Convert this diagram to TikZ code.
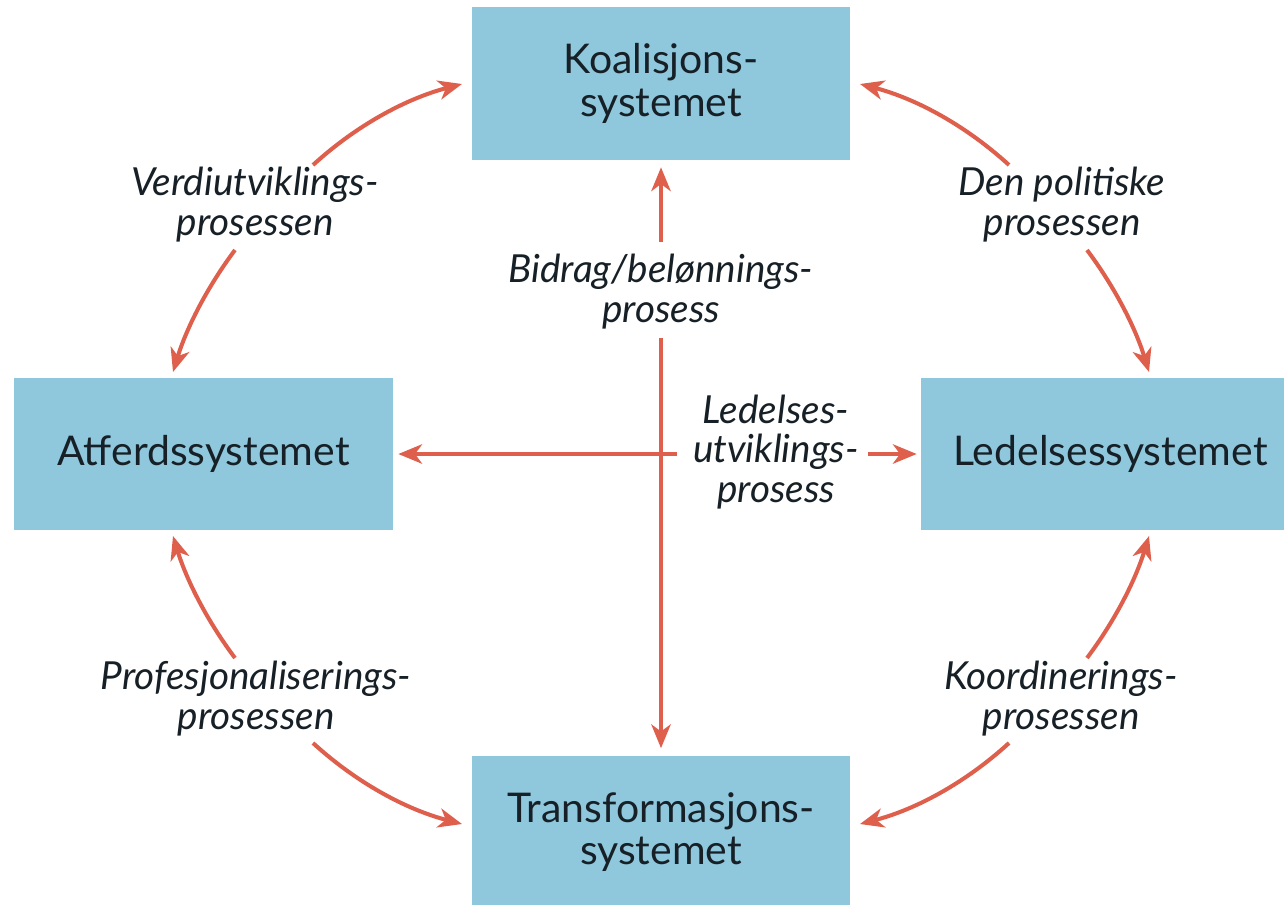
\documentclass[tikz,border=0pt]{standalone}
\usepackage{fontspec}
\setmainfont{Lato}
\usetikzlibrary{arrows.meta}
\definecolor{boxblue}{RGB}{143,199,220}
\definecolor{arrred}{RGB}{222,96,76}
\definecolor{txtcol}{RGB}{22,32,38}
\begin{document}
\begin{tikzpicture}[x=0.02cm,y=-0.02cm,
  sysbox/.style={fill=boxblue, draw=none, minimum width=7.58cm, minimum height=3.06cm,
    align=center, text=txtcol, font=\fontsize{23.3}{24}\selectfont, inner sep=0pt},
  proc/.style={align=center, text=txtcol, font=\fontsize{22}{22.7}\selectfont\itshape, inner sep=0pt},
  arr/.style={draw=arrred, line width=2.3pt, -{Stealth[length=13.5pt,width=11pt,inset=4pt]}},
]
\clip (0,0) rectangle (1284,904);
\fill[white] (0,0) rectangle (1284,904);

% boxes
\node[sysbox] (koal) at (661,83.5) {Koalisjons-\\systemet};
\node[sysbox] (atf) at (203.5,454) {Atferdssystemet};
\node[sysbox] (led) at (1110.5,454) {Ledelsessystemet};
\node[sysbox] (trans) at (661,832) {Transformasjons-\\systemet};

% labels
\node[proc] (verdi) at (255,205) {Verdiutviklings-\\prosessen};
\node[proc] (polit) at (1062,205) {Den politiske\\prosessen};
\node[proc] (profes) at (256,699) {Profesjonaliserings-\\prosessen};
\node[proc] (koord) at (1061,699) {Koordinerings-\\prosessen};
\node[proc] (bidrag) at (661,292) {Bidrag/belønnings-\\prosess};
\node[proc] (ledutv) at (776,452) {Ledelses-\\utviklings-\\prosess};

% free ends of connectors
\coordinate (aS) at (313,165);  \coordinate (aE) at (462,84);
\coordinate (bS) at (235,250);  \coordinate (bE) at (173,372);
\coordinate (cS) at (1009,165); \coordinate (cE) at (860,84);
\coordinate (dS) at (1087,250); \coordinate (dE) at (1149,372);
\coordinate (eS) at (313,743);  \coordinate (eE) at (462,824);
\coordinate (fS) at (235,658);  \coordinate (fE) at (173,536);
\coordinate (gS) at (1009,743); \coordinate (gE) at (860,824);
\coordinate (hS) at (1087,658); \coordinate (hE) at (1149,536);
\coordinate (vTop) at (661,242);
\coordinate (vBot) at (661,338);
\coordinate (hRight) at (677,454);
\coordinate (hShort) at (868,454);

% curved arrows
\draw[arr] (aS) .. controls (356,125.7) and (405.6,98.7) .. (aE);
\draw[arr] (bS) .. controls (207.2,287.1) and (186.6,327.7) .. (bE);
\draw[arr] (cS) .. controls (966,125.7) and (916.4,98.7) .. (cE);
\draw[arr] (dS) .. controls (1114.8,287.1) and (1135.4,327.7) .. (dE);
\draw[arr] (eS) .. controls (356,782.3) and (405.6,809.3) .. (eE);
\draw[arr] (fS) .. controls (207.2,620.9) and (186.6,580.3) .. (fE);
\draw[arr] (gS) .. controls (966,782.3) and (916.4,809.3) .. (gE);
\draw[arr] (hS) .. controls (1114.8,620.9) and (1135.4,580.3) .. (hE);

% straight arrows
\draw[arr, shorten >=0.14cm] (vTop) -- (koal.south);
\draw[arr, shorten >=0.14cm] (vBot) -- (trans.north);
\draw[arr, shorten >=0.1cm] (hRight) -- (atf.east);
\draw[arr, shorten >=0.08cm] (hShort) -- (led.west);
\end{tikzpicture}
\end{document}
